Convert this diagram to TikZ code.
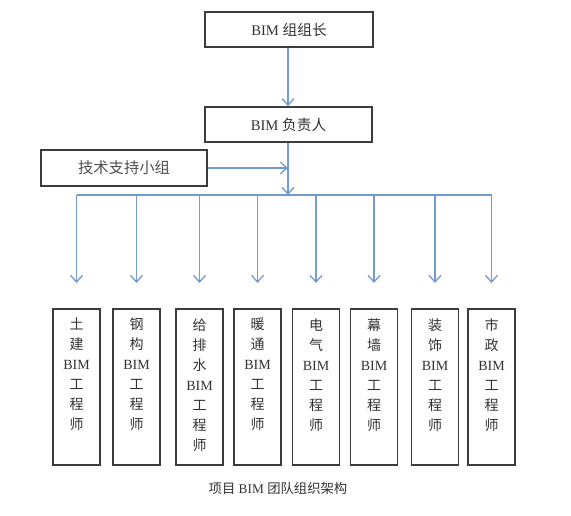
\documentclass[tikz,border=0pt]{standalone}
\usepackage{fontspec}
\setmainfont{Liberation Serif}
\newfontfamily\cjk{Noto Sans CJK SC}
\usetikzlibrary{arrows.meta}
\definecolor{lineblue}{RGB}{115,155,210}
\definecolor{boxgray}{RGB}{60,60,60}
\definecolor{txtgray}{RGB}{50,50,50}
\tikzset{
  box/.style={draw=boxgray, line width=1.1pt, inner sep=0pt, text=txtgray},
  topbox/.style={box, minimum width=126pt, minimum height=26.25pt, font=\fontsize{11}{12}\selectfont},
  engbox/.style={box, minimum width=35.25pt, minimum height=117pt},
  engtext/.style={inner sep=0pt, align=center, text=txtgray, font=\fontsize{10.5}{15}\selectfont},
  arr/.style={draw=lineblue, line width=1.2pt, -{Straight Barb[length=5pt,width=9pt,line width=1pt]}},
  bus/.style={draw=lineblue, line width=1.2pt},
}
\begin{document}
\begin{tikzpicture}[x=0.75pt,y=-0.75pt]
\useasboundingbox (0,0) rectangle (571,515);
\node[topbox] (lead) at (289,29.5) {BIM {\cjk 组组长}};
\node[topbox, minimum width=125.25pt] (resp) at (288.5,124.5) {BIM {\cjk 负责人}};
\node[box, minimum width=124.5pt, minimum height=27pt, text={rgb,255:red,80;green,80;blue,80}, font=\cjk\fontsize{11.5}{13}\selectfont] (tech) at (124,168) {技术支持小组};

\coordinate (busL) at (76.5,195);
\coordinate (busR) at (491.5,195);
\coordinate (leadS) at (288,47);
\coordinate (busC) at (288,195);
\draw[arr] (lead.south -| leadS) -- (resp.north -| leadS);
\draw[arr] (resp.south -| busC) -- (busC);
\draw[arr] (tech.east) -- (tech.east -| busC);
\draw[bus] (busL) -- (busR);

\foreach \i/\x/\t in {1/76.5/{{\cjk 土}\\{\cjk 建}\\BIM\\{\cjk 工}\\{\cjk 程}\\{\cjk 师}},
                     2/136.5/{{\cjk 钢}\\{\cjk 构}\\BIM\\{\cjk 工}\\{\cjk 程}\\{\cjk 师}},
                     3/199.5/{{\cjk 给}\\{\cjk 排}\\{\cjk 水}\\BIM\\{\cjk 工}\\{\cjk 程}\\{\cjk 师}},
                     4/257.5/{{\cjk 暖}\\{\cjk 通}\\BIM\\{\cjk 工}\\{\cjk 程}\\{\cjk 师}},
                     5/316/{{\cjk 电}\\{\cjk 气}\\BIM\\{\cjk 工}\\{\cjk 程}\\{\cjk 师}},
                     6/374/{{\cjk 幕}\\{\cjk 墙}\\BIM\\{\cjk 工}\\{\cjk 程}\\{\cjk 师}},
                     7/435/{{\cjk 装}\\{\cjk 饰}\\BIM\\{\cjk 工}\\{\cjk 程}\\{\cjk 师}},
                     8/491.5/{{\cjk 市}\\{\cjk 政}\\BIM\\{\cjk 工}\\{\cjk 程}\\{\cjk 师}}} {
  \node[engbox] (e\i) at (\x,387) {};
  \node[engtext, anchor=north] (t\i) at (\x,318) {\t};
  \coordinate (b\i) at (\x,195);
  \draw[arr] (b\i) -- (\x,283);
}

\node[inner sep=0pt, text=txtgray, font=\fontsize{10}{12}\selectfont] (cap) at (278,488) {{\cjk 项目} BIM {\cjk 团队组织架构}};
\end{tikzpicture}
\end{document}
